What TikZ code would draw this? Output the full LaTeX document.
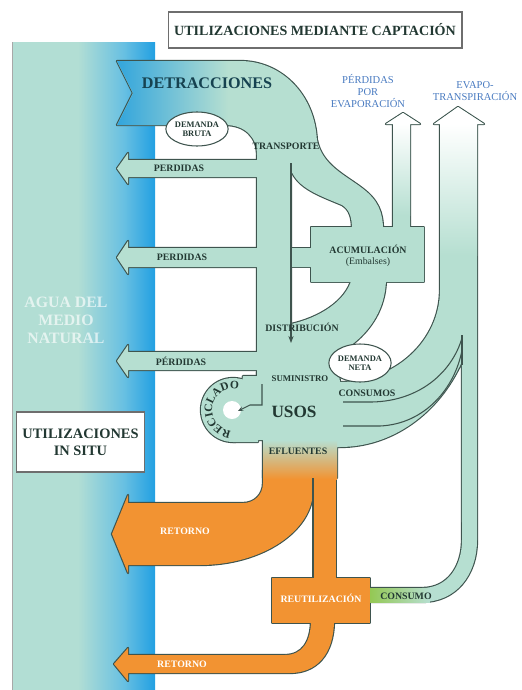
\documentclass[tikz,border=0pt]{standalone}
\usepackage{fontspec}
\setmainfont{Liberation Serif}
\usetikzlibrary{arrows.meta, shapes.geometric, decorations.text}

\definecolor{pipeaqua}{RGB}{182,223,209}
\definecolor{pipeedge}{RGB}{62,84,78}
\definecolor{labeldark}{RGB}{34,56,50}
\definecolor{labelblue}{RGB}{72,122,192}
\definecolor{detrblue}{RGB}{50,165,220}
\definecolor{detrtext}{RGB}{22,66,80}
\definecolor{returnorange}{RGB}{242,147,50}
\definecolor{effgreen}{RGB}{148,200,84}
\definecolor{panelpale}{RGB}{178,222,212}
\definecolor{panelmid}{RGB}{104,192,226}
\definecolor{panelblue}{RGB}{34,160,226}
\definecolor{boxedge}{RGB}{110,110,110}

\pgfdeclarehorizontalshading{panelshade}{100bp}{color(0bp)=(panelpale); color(25bp)=(panelpale); color(48bp)=(panelpale); color(64bp)=(panelmid); color(75bp)=(panelblue); color(100bp)=(panelblue)}

% flow shapes (pixel units, y down)
\newcommand\detrpath{(117,61) -- (240,61) .. controls (283,61) and (317,97) .. (317,145) -- (291,168) -- (291,378) -- (257,378) -- (257,155) .. controls (257,137) and (245,125) .. (225,125) -- (117,125) -- (133,93) -- cycle}
\newcommand\feedpath{(291,160) -- (317,140) .. controls (322,165) and (345,175) .. (362,188) .. controls (378,200) and (383,212) .. (383,230) -- (352,230) .. controls (352,218) and (350,210) .. (342,205) .. controls (318,195) and (298,188) .. (291,170) -- cycle}
\newcommand\storepath{(311,227) -- (424,227) -- (424,282) -- (311,282) -- (311,267) -- (285,267) -- (285,248) -- (311,248) -- cycle}
\newcommand\evaparrowpath{(393,230) -- (393,124) -- (386,124) -- (403,113) -- (420,124) -- (410,124) -- (410,230) -- cycle}
\newcommand\dropspath{(352,278) .. controls (346,302) and (318,318) .. (291,324) -- (291,370) .. controls (340,362) and (386,330) .. (386,278) -- cycle}
\newcommand\usespath{(257,372) -- (291,372) -- (291,350) -- (335,345) -- (340,382) -- (340,447) -- (337,447) -- (337,478) -- (263,478) -- (263,440) -- (257,440) -- cycle}
\newcommand\recycpath{(233,410) circle[radius=32]}
\newcommand\recycjoin{(243,376) -- (258,376) -- (258,442) -- (233,442) -- cycle}
\newcommand\evapopath{(440,124) -- (440,290) arc[start angle=0, end angle=90, x radius=100, y radius=92] -- (340,447) arc[start angle=90, end angle=27.1, x radius=137, y radius=157] -- (462,540) .. controls (462,566) and (448,588) .. (422,588) -- (370,588) -- (370,602) -- (422,602) .. controls (456,602) and (477,575) .. (477,540) -- (477,124) -- (484,124) -- (458,107) -- (434,124) -- cycle}
\newcommand\lossarrow[2]{(262,#1) -- (128,#1) -- (128,{#1-7}) -- (117,{(#1+#2)/2}) -- (128,{#2+7}) -- (128,#2) -- (262,#2) -- cycle}
\newcommand\bigretpath{(263,470) -- (263,483) .. controls (263,495) and (254,503) .. (243,503) -- (128,503) -- (128,495) -- (112,534) -- (128,573) -- (128,565) -- (200,565) .. controls (262,565) and (313,531) .. (313,490) -- (313,470) -- cycle}
\newcommand\reusefeed{(313,470) rectangle (336,580)}
\newcommand\reusebox{(272,578) rectangle (370,623)}
\newcommand\smallretpath{(311,620) .. controls (311,642) and (302,655) .. (285,655) -- (128,655) -- (128,648) -- (114,664) -- (128,681) -- (128,673) -- (290,673) .. controls (316,673) and (334,655) .. (334,620) -- cycle}

\begin{document}
\begin{tikzpicture}[
  x=0.02cm, y=-0.02cm,
  edgepass/.style={draw=pipeedge, line width=1.3pt, line join=round},
  lbl/.style={font=\fontsize{5.6}{6.2}\selectfont\bfseries, text=labeldark, inner sep=0pt, align=center},
  whitelbl/.style={lbl, text=white},
  bluelbl/.style={font=\fontsize{6}{6.8}\selectfont, text=labelblue, inner sep=0pt, align=center},
  demand/.style={ellipse, draw=pipeedge, fill=white, line width=0.6pt, inner sep=0pt,
    font=\fontsize{4.8}{5.4}\selectfont\bfseries, text=labeldark, align=center},
  titlebox/.style={draw=boxedge, fill=white, line width=0.6pt, text=labeldark, align=center,
    font=\fontsize{8}{9.7}\selectfont\bfseries},
  thinflow/.style={draw=pipeedge, line width=0.6pt}
]

\useasboundingbox (0,0) rectangle (521,690);

% natural water
\shade[shading=panelshade] (12,42) rectangle (155,690);
\draw[boxedge!60, line width=0.5pt] (12,42) -- (12,690);

% outlines of all flows
\draw[edgepass] \detrpath;
\draw[edgepass] \feedpath;
\draw[edgepass] \storepath;
\draw[edgepass] \evaparrowpath;
\draw[edgepass] \dropspath;
\draw[edgepass] \usespath;
\draw[edgepass] \recycpath;
\draw[edgepass] \recycjoin;
\draw[edgepass] \evapopath;
\draw[edgepass] \lossarrow{160}{177};
\draw[edgepass] \lossarrow{248}{267};
\draw[edgepass] \lossarrow{352}{370};
\draw[edgepass] \bigretpath;
\draw[edgepass] \reusefeed;
\draw[edgepass] \reusebox;
\draw[edgepass] \smallretpath;

% fills
\fill[pipeaqua] \detrpath;
\fill[pipeaqua] \feedpath;
\fill[pipeaqua] \storepath;
\fill[pipeaqua] \evaparrowpath;
\fill[pipeaqua] \dropspath;
\fill[pipeaqua] \usespath;
\fill[pipeaqua] \recycpath;
\fill[pipeaqua] \recycjoin;
\fill[pipeaqua] \evapopath;
\fill[pipeaqua] \lossarrow{160}{177};
\fill[pipeaqua] \lossarrow{248}{267};
\fill[pipeaqua] \lossarrow{352}{370};
\fill[returnorange] \bigretpath;
\fill[returnorange] \reusefeed;
\fill[returnorange] \reusebox;
\fill[returnorange] \smallretpath;

% colour fades
\shade[left color=detrblue, right color=pipeaqua] (117,61) -- (228,61) -- (228,125) -- (117,125) -- (133,93) -- cycle;
\shade[top color=white, bottom color=pipeaqua] (440,124) rectangle (477,255);
\fill[white] (434,124) -- (458,107) -- (484,124) -- cycle;
\shade[top color=white, bottom color=pipeaqua] (393,124) rectangle (410,215);
\fill[white] (386,124) -- (403,113) -- (420,124) -- cycle;
\shade[top color=pipeaqua, middle color=effgreen, bottom color=returnorange] (263,440) rectangle (337,479);
\shade[left color=effgreen, right color=pipeaqua] (370,588) rectangle (430,602);

% inner lines
\coordinate (feedtop) at (291,163);
\coordinate (feedend) at (291,343);
\draw[thinflow, -{Stealth[length=4pt, width=3pt]}] (feedtop) -- (feedend);
\coordinate (splittop) at (313,478);
\coordinate (splitbot) at (313,578);
\draw[thinflow] (splittop) -- (splitbot);
\draw[thinflow] (343,402) -- (372,402) .. controls (420,401) and (452,372) .. (462,338);
\draw[thinflow] (343,426) -- (380,426) .. controls (425,424) and (455,388) .. (462,350);
\draw[thinflow] (462,335) -- (462,365);

% recycling loop
\fill[white] (232,410) circle[radius=9];
\coordinate (supplytap) at (262,384);
\coordinate (recycin) at (238,411);
\draw[thinflow, -{Stealth[length=3pt, width=2.5pt]}] (supplytap) |- (250,405) -- (recycin);
\path[decorate, decoration={text along path, text color=labeldark,
  text={|\fontsize{6.5}{6.5}\selectfont\bfseries|RECICLADO}}]
  (231.2,430.9) arc[start angle=95, end angle=300, radius=21];

% labels
\node[titlebox, minimum width=5.88cm, minimum height=0.72cm] (capt) at (315,30) {UTILIZACIONES MEDIANTE CAPTACIÓN};
\node[titlebox, minimum width=2.5cm, minimum height=1.2cm, font=\fontsize{8.2}{9.8}\selectfont\bfseries] (insitu) at (80.5,442) {UTILIZACIONES\\IN SITU};
\node[font=\fontsize{9}{10.2}\selectfont\bfseries, text=white, text opacity=0.65, align=center] (natural) at (66,320) {AGUA DEL\\MEDIO\\NATURAL};
\node[font=\fontsize{9.2}{10}\selectfont\bfseries, text=detrtext] (detr) at (207,83) {DETRACCIONES};
\node[demand, minimum width=1.24cm, minimum height=0.68cm] (gross) at (197,129) {DEMANDA\\BRUTA};
\node[lbl] (transp) at (286,146) {TRANSPORTE};
\node[lbl] (loss1) at (179,168.5) {PERDIDAS};
\node[lbl] (loss2) at (182,257.5) {PERDIDAS};
\node[lbl] (loss3) at (181,361) {PÉRDIDAS};
\node[bluelbl] (evap) at (368,91) {PÉRDIDAS\\POR\\EVAPORACIÓN};
\node[bluelbl] (evapot) at (475,91) {EVAPO-\\TRANSPIRACIÓN};
\node[lbl] (store) at (368,256) {ACUMULACIÓN\\{\mdseries(Embalses)}};
\node[lbl] (distr) at (302,327) {DISTRIBUCIÓN};
\node[demand, minimum width=1.24cm, minimum height=0.76cm] (net) at (360,363) {DEMANDA\\NETA};
\node[lbl, font=\fontsize{5}{6}\selectfont\bfseries] (supply) at (300,379) {SUMINISTRO};
\node[font=\fontsize{9.8}{11}\selectfont\bfseries, text=labeldark] (uses) at (294,412) {USOS};
\node[lbl] (cons) at (367,393) {CONSUMOS};
\node[lbl] (effl) at (298,451) {EFLUENTES};
\node[whitelbl] (ret1) at (185,531) {RETORNO};
\node[whitelbl] (reuse) at (321,598) {REUTILIZACIÓN};
\node[lbl] (cons2) at (406,596) {CONSUMO};
\node[whitelbl] (ret2) at (182,664) {RETORNO};

\end{tikzpicture}
\end{document}
